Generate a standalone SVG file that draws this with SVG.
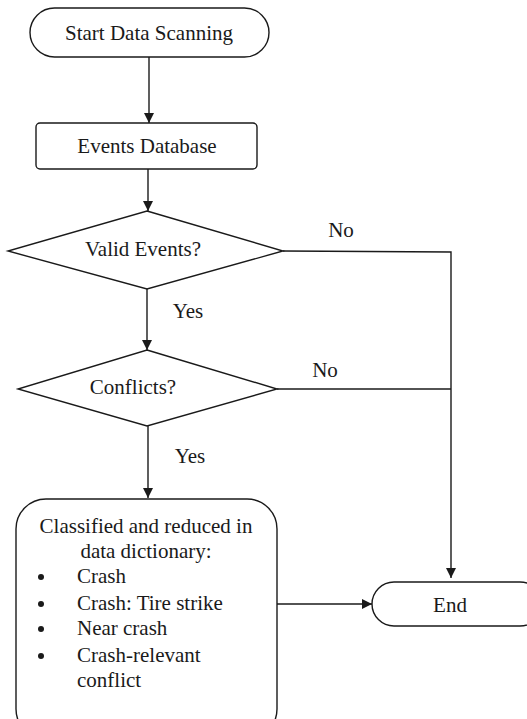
<svg xmlns="http://www.w3.org/2000/svg" width="527" height="719" viewBox="0 0 527 719">
<defs>
<marker id="ah" viewBox="0 0 10 10" refX="10" refY="5" markerWidth="10" markerHeight="10" markerUnits="userSpaceOnUse" orient="auto">
<path d="M0,0 L10,5 L0,10 Z" fill="#1a1a1a"/>
</marker>
<style>
.s{fill:#fff;stroke:#1a1a1a;stroke-width:1.4}
.c{fill:none;stroke:#1a1a1a;stroke-width:1.4}
.m{text-anchor:middle}
</style>
</defs>
<g font-family="'Liberation Serif', 'Times New Roman', 'DejaVu Serif', serif" font-size="21" fill="#1a1a1a">
<g id="connectors">
<line class="c" x1="149" y1="57" x2="149" y2="123" marker-end="url(#ah)"/>
<line class="c" x1="148" y1="169" x2="148" y2="211" marker-end="url(#ah)"/>
<line class="c" x1="147" y1="289" x2="147" y2="350" marker-end="url(#ah)"/>
<line class="c" x1="148" y1="426" x2="148" y2="498" marker-end="url(#ah)"/>
<polyline class="c" points="283,251 451,252 451,578" marker-end="url(#ah)"/>
<line class="c" x1="277" y1="389" x2="451" y2="389"/>
<line class="c" x1="277" y1="604" x2="372" y2="604" marker-end="url(#ah)"/>
<text x="341" y="237" class="m">No</text>
<text x="325" y="377" class="m">No</text>
<text x="188" y="318" class="m">Yes</text>
<text x="190" y="463" class="m">Yes</text>
</g>
<g id="start">
<rect class="s" x="30" y="8" width="239" height="49" rx="24.5"/>
<text x="149" y="40" class="m">Start Data Scanning</text>
</g>
<g id="events-db">
<rect class="s" x="36" y="123" width="221" height="46" rx="4"/>
<text x="147" y="153" class="m">Events Database</text>
</g>
<g id="valid-events">
<polygon class="s" points="147,211 283,251 147,289 8,251"/>
<text x="143" y="256" class="m">Valid Events?</text>
</g>
<g id="conflicts">
<polygon class="s" points="147,350 277,389 147,426 18,389"/>
<text x="133" y="394" class="m">Conflicts?</text>
</g>
<g id="classified">
<rect class="s" x="16" y="499" width="261" height="240" rx="30"/>
<text x="146" y="533" class="m">Classified and reduced in</text>
<text x="146" y="558" class="m">data dictionary:</text>
<circle cx="41" cy="577" r="3" fill="#1a1a1a"/>
<text x="77" y="583">Crash</text>
<circle cx="41" cy="604" r="3" fill="#1a1a1a"/>
<text x="77" y="610">Crash: Tire strike</text>
<circle cx="41" cy="629" r="3" fill="#1a1a1a"/>
<text x="77" y="635">Near crash</text>
<circle cx="41" cy="656" r="3" fill="#1a1a1a"/>
<text x="77" y="662">Crash-relevant</text>
<text x="77" y="687">conflict</text>
</g>
<g id="end">
<rect class="s" x="372" y="582" width="170" height="44" rx="22"/>
<text x="450" y="612" class="m">End</text>
</g>
</g>
</svg>
